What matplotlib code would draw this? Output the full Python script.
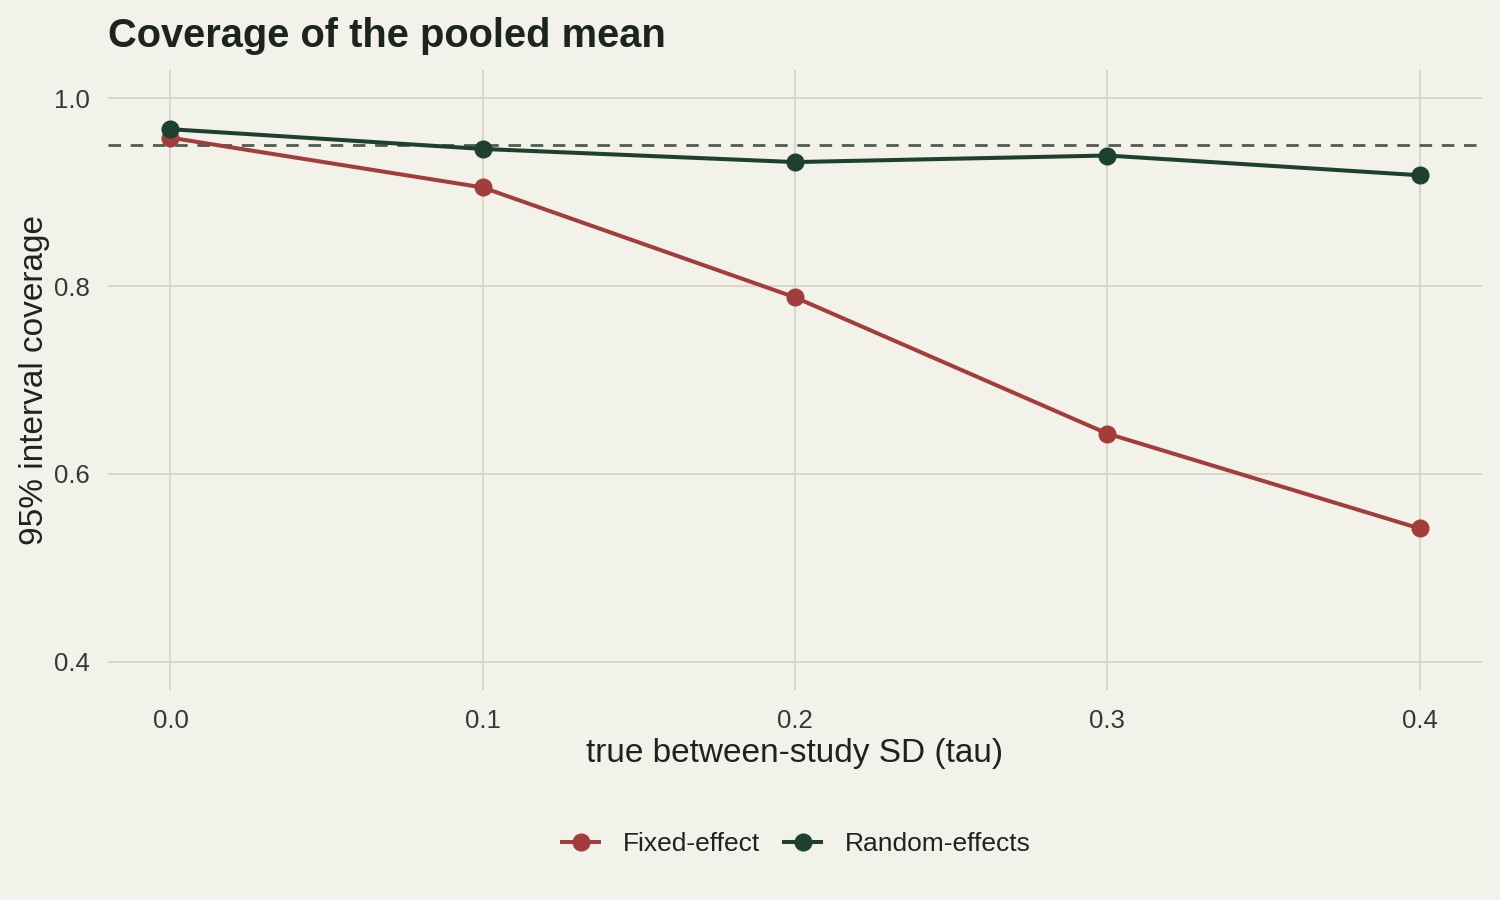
import matplotlib
matplotlib.use("Agg")
import matplotlib.pyplot as plt
from matplotlib.lines import Line2D

tau = [0.0, 0.1, 0.2, 0.3, 0.4]
fixed_cov = [0.958, 0.905, 0.788, 0.643, 0.542]
random_cov = [0.967, 0.946, 0.932, 0.939, 0.918]
nominal = 0.95
series_names = ["Fixed-effect", "Random-effects"]
xticks = [0.0, 0.1, 0.2, 0.3, 0.4]
yticks = [0.4, 0.6, 0.8, 1.0]

BG = "#f2f1ea"
GRID = "#d6d5c5"
RED = "#a33d3c"
GREEN = "#1e412f"
DASH = "#4f5c52"
TXT = "#1c241f"

plt.rcParams["font.family"] = ["Liberation Sans", "DejaVu Sans"]

fig = plt.figure(figsize=(15, 9), dpi=100, facecolor=BG)
ax = fig.add_axes([0.072, 0.2333, 0.916, 0.6889])
ax.set_facecolor(BG)
for s in ax.spines.values():
    s.set_visible(False)

ax.set_xlim(-0.02, 0.42)
ax.set_ylim(0.37, 1.03)
ax.set_xticks(xticks)
ax.set_xticklabels([f"{v:.1f}" for v in xticks])
ax.set_yticks(yticks)
ax.set_yticklabels([f"{v:.1f}" for v in yticks])
ax.grid(True, color=GRID, linewidth=1.3)
ax.set_axisbelow(True)
ax.tick_params(length=0, labelsize=18.5, colors="#333a35")
ax.tick_params(axis="x", pad=14)
ax.tick_params(axis="y", pad=13)

ax.axhline(nominal, color=DASH, linewidth=2, dashes=(4.5, 3.5), zorder=2)
ax.plot(tau, fixed_cov, color=RED, linewidth=2.9, marker="o", markersize=12, zorder=3)
ax.plot(tau, random_cov, color=GREEN, linewidth=2.9, marker="o", markersize=12, zorder=4)

ax.set_xlabel("true between-study SD (tau)", fontsize=24, color=TXT, labelpad=3)
ax.set_ylabel("95% interval coverage", fontsize=24, color=TXT, labelpad=3)

fig.text(0.072, 0.96, "Coverage of the pooled mean", fontsize=28.7, fontweight="bold",
         color=TXT, ha="left", va="center")

handles = [Line2D([], [], color=RED, linewidth=2.9, marker="o", markersize=12),
           Line2D([], [], color=GREEN, linewidth=2.9, marker="o", markersize=12)]
fig.legend(handles, series_names, loc="center", bbox_to_anchor=(0.531, 0.062), ncol=2,
           frameon=False, fontsize=19, handlelength=1.4, handletextpad=0.9,
           columnspacing=0.9, labelcolor=TXT)

fig.savefig("out.png", dpi=100, facecolor=BG)
